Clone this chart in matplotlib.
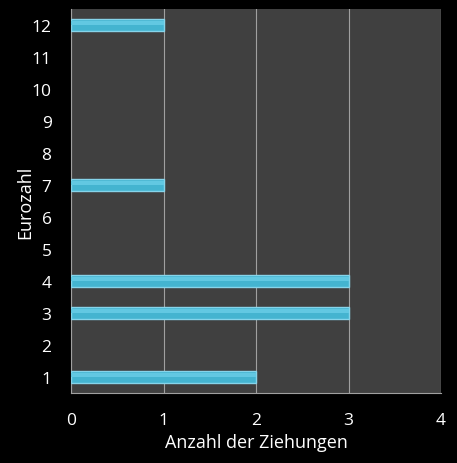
import matplotlib
matplotlib.use("Agg")
import matplotlib.pyplot as plt
import numpy as np

categories = ["1", "2", "3", "4", "5", "6", "7", "8", "9", "10", "11", "12"]
values = [2, 0, 3, 3, 0, 0, 1, 0, 0, 0, 0, 1]
x_ticks = [0, 1, 2, 3, 4]

plt.rcParams['font.family'] = ['Open Sans', 'DejaVu Sans']

fig = plt.figure(figsize=(4.57, 4.64), dpi=100, facecolor='black')
ax = fig.add_axes([71/457, 70/464, 370/457, 384/464])
ax.set_facecolor('#404040')

y = np.arange(len(categories))
lw = [1.0 if v > 0 else 0 for v in values]
ax.barh(y, values, height=0.38, color='#44b4d0', edgecolor='#86d4ea', linewidth=lw, zorder=3)
ax.barh(y + 0.06, values, height=0.14, color='#62c8e2', linewidth=0, zorder=4)

ax.set_xlim(0, 4)
ax.set_ylim(-0.5, len(categories) - 0.5)
ax.set_xticks(x_ticks)
ax.set_yticks(y)
ax.set_yticklabels(categories)
ax.xaxis.grid(True, color='#a0a0a0', linewidth=0.8, zorder=1)
ax.set_axisbelow(True)

for s in ['top', 'right']:
    ax.spines[s].set_visible(False)
ax.spines['left'].set_color('#a0a0a0')
ax.spines['bottom'].set_color('#a0a0a0')

ax.tick_params(axis='both', colors='white', labelsize=12.5, length=0)
ax.tick_params(axis='y', pad=14)
ax.tick_params(axis='x', pad=14)
ax.set_xlabel('Anzahl der Ziehungen', color='white', fontsize=13, labelpad=3)
ax.set_ylabel('Eurozahl', color='white', fontsize=13, labelpad=-2)

fig.savefig('out.png', dpi=100, facecolor='black')
